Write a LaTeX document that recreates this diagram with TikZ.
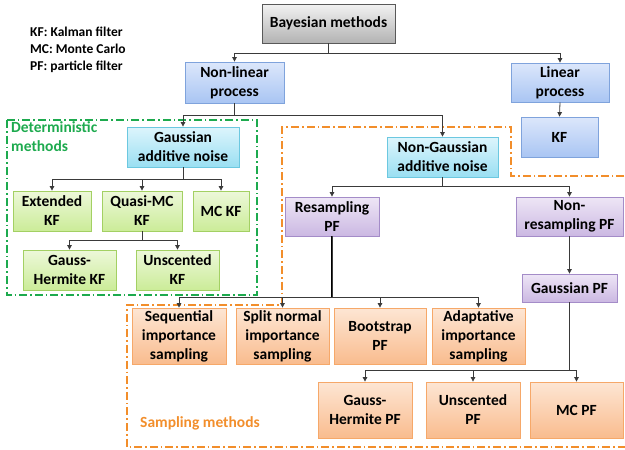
\documentclass[tikz,border=0pt]{standalone}
\usepackage{fontspec}
\setmainfont{Carlito}
\usetikzlibrary{arrows.meta}
\definecolor{conncol}{HTML}{3A3A3A}
\definecolor{grnline}{HTML}{1DAA4E}
\definecolor{orgline}{HTML}{F28E2B}
\definecolor{HTML7FA3DC}{HTML}{7FA3DC}
\definecolor{HTMLDCE7FB}{HTML}{DCE7FB}
\definecolor{HTMLA9C5F3}{HTML}{A9C5F3}
\definecolor{HTML6CC8E0}{HTML}{6CC8E0}
\definecolor{HTMLDDF5FC}{HTML}{DDF5FC}
\definecolor{HTML9ADFF2}{HTML}{9ADFF2}
\definecolor{HTMLA3D063}{HTML}{A3D063}
\definecolor{HTMLEDF8DA}{HTML}{EDF8DA}
\definecolor{HTMLCBEC98}{HTML}{CBEC98}
\definecolor{HTMLA48CC8}{HTML}{A48CC8}
\definecolor{HTMLEEE6F6}{HTML}{EEE6F6}
\definecolor{HTMLCBB8E2}{HTML}{CBB8E2}
\definecolor{HTMLF6A869}{HTML}{F6A869}
\definecolor{HTMLFDE6D4}{HTML}{FDE6D4}
\definecolor{HTMLF9BC8E}{HTML}{F9BC8E}
\tikzset{
  bx/.style={draw, line width=0.8pt, align=center, inner sep=1pt,
    font=\fontsize{15.5}{19}\selectfont\bfseries, text=black},
  graybox/.style={bx, draw=black!65, top color=black!5, bottom color=black!30},
  bluebox/.style={bx, draw=HTML7FA3DC, top color=HTMLDCE7FB, bottom color=HTMLA9C5F3},
  cyanbox/.style={bx, draw=HTML6CC8E0, top color=HTMLDDF5FC, bottom color=HTML9ADFF2},
  greenbox/.style={bx, draw=HTMLA3D063, top color=HTMLEDF8DA, bottom color=HTMLCBEC98},
  purplebox/.style={bx, draw=HTMLA48CC8, top color=HTMLEEE6F6, bottom color=HTMLCBB8E2},
  orangebox/.style={bx, draw=HTMLF6A869, top color=HTMLFDE6D4, bottom color=HTMLF9BC8E},
  conn/.style={draw=conncol, line width=0.8pt, -{Triangle[length=4.5pt,width=4.5pt]}},
  trunk/.style={draw=black, line width=1.1pt},
  groupline/.style={line width=1.6pt, dash pattern=on 8pt off 3pt on 1.6pt off 3pt},
}
\begin{document}
\begin{tikzpicture}[x=1pt,y=-1pt]
\useasboundingbox (0,0) rectangle (625,450);

% group outlines
\draw[groupline, draw=grnline] (7,120) rectangle (257,295);
\draw[groupline, draw=orgline] (640,176) -- (511,176) -- (511,127) -- (282,127) -- (282,305) -- (127,305) -- (127,447) -- (640,447);

% legend and group labels
\node[anchor=north west, align=left, inner sep=0pt, font=\fontsize{13.5}{17}\selectfont\bfseries] (legend) at (30,27)
  {KF: Kalman filter\\MC: Monte Carlo\\PF: particle filter};
\node[anchor=north west, align=left, inner sep=0pt, text=grnline, font=\fontsize{15.5}{19}\selectfont\bfseries] (detlab) at (11,121)
  {Deterministic\\methods};
\node[anchor=west, inner sep=0pt, text=orgline, font=\fontsize{15.5}{19}\selectfont\bfseries] (samplab) at (140,423)
  {Sampling methods};

% nodes
\node[graybox, minimum width=133pt, minimum height=39pt] (bay) at (328.5,23.5) {Bayesian methods};
\node[bluebox, minimum width=99pt, minimum height=41pt] (nlp) at (234.5,82.5) {Non-linear\\process};
\node[bluebox, minimum width=98pt, minimum height=39pt] (lin) at (560,82.5) {Linear\\process};
\node[bluebox, minimum width=77pt, minimum height=40pt] (kf) at (559.5,137) {KF};
\node[cyanbox, minimum width=112pt, minimum height=40pt] (gan) at (183,147) {Gaussian\\additive noise};
\node[cyanbox, minimum width=111pt, minimum height=40pt] (ngan) at (442.5,157) {Non-Gaussian\\additive noise};
\node[greenbox, minimum width=78pt, minimum height=40pt] (ekf) at (52,211) {Extended\\KF};
\node[greenbox, minimum width=80pt, minimum height=40pt] (qmc) at (142,211) {Quasi-MC\\KF};
\node[greenbox, minimum width=56pt, minimum height=40pt] (mckf) at (221,211) {MC KF};
\node[greenbox, minimum width=93pt, minimum height=40pt] (ghkf) at (69.5,270) {Gauss-\\Hermite KF};
\node[greenbox, minimum width=83pt, minimum height=40pt] (ukf) at (177.5,270) {Unscented\\KF};
\node[purplebox, minimum width=94pt, minimum height=39pt] (rpf) at (332,216.5) {Resampling\\PF};
\node[purplebox, minimum width=107pt, minimum height=39pt] (nrpf) at (569.5,216.5) {Non-\\resampling PF};
\node[purplebox, minimum width=95pt, minimum height=28pt] (gpf) at (569.5,288) {Gaussian PF};
\node[orangebox, minimum width=94pt, minimum height=56pt] (sis) at (179,336) {Sequential\\importance\\sampling};
\node[orangebox, minimum width=93pt, minimum height=56pt] (snis) at (282.5,336) {Split normal\\importance\\sampling};
\node[orangebox, minimum width=92pt, minimum height=56pt] (boot) at (380,336) {Bootstrap\\PF};
\node[orangebox, minimum width=93pt, minimum height=56pt] (ais) at (478.5,336) {Adaptative\\importance\\sampling};
\node[orangebox, minimum width=94pt, minimum height=56pt] (ghpf) at (365,410) {Gauss-\\Hermite PF};
\node[orangebox, minimum width=94pt, minimum height=56pt] (upf) at (473,410) {Unscented\\PF};
\node[orangebox, minimum width=93pt, minimum height=56pt] (mcpf) at (576.5,410) {MC PF};

% connectors
\draw[conn] (bay.south) -- (bay.south |- 0,53) -| (nlp.north);
\draw[conn] (bay.south) -- (bay.south |- 0,53) -| (lin.north);
\draw[conn] (lin.south) -- (kf.north);
\draw[conn] (nlp.south) -- (nlp.south |- 0,115) -| (gan.north);
\draw[conn] (nlp.south) -- (nlp.south |- 0,115) -| (ngan.north);
\draw[conn] (gan.south) -- (gan.south |- 0,179) -| (ekf.north);
\draw[conn] (gan.south) -- (gan.south |- 0,179) -| (qmc.north);
\draw[conn] (gan.south) -- (gan.south |- 0,179) -| (mckf.north);
\draw[conn] (qmc.south) -- (qmc.south |- 0,240) -| (ghkf.north);
\draw[conn] (qmc.south) -- (qmc.south |- 0,240) -| (ukf.north);
\draw[conn] (ngan.south) -- (ngan.south |- 0,186) -| (rpf.north);
\draw[conn] (ngan.south) -- (ngan.south |- 0,186) -| (nrpf.north);
\draw[conn] (nrpf.south) -- (gpf.north);
\draw[trunk] (rpf.south) -- (rpf.south |- 0,297);
\draw[conn] (rpf.south) -- (rpf.south |- 0,297) -| (sis.north);
\draw[conn] (rpf.south) -- (rpf.south |- 0,297) -| (snis.north);
\draw[conn] (rpf.south) -- (rpf.south |- 0,297) -| (boot.north);
\draw[conn] (rpf.south) -- (rpf.south |- 0,297) -| (ais.north);
\draw[conn] (gpf.south) -- (gpf.south |- 0,370) -| (ghpf.north);
\draw[conn] (gpf.south) -- (gpf.south |- 0,370) -| (upf.north);
\draw[conn] (gpf.south) -- (gpf.south |- 0,370) -| (mcpf.north);
\end{tikzpicture}
\end{document}
